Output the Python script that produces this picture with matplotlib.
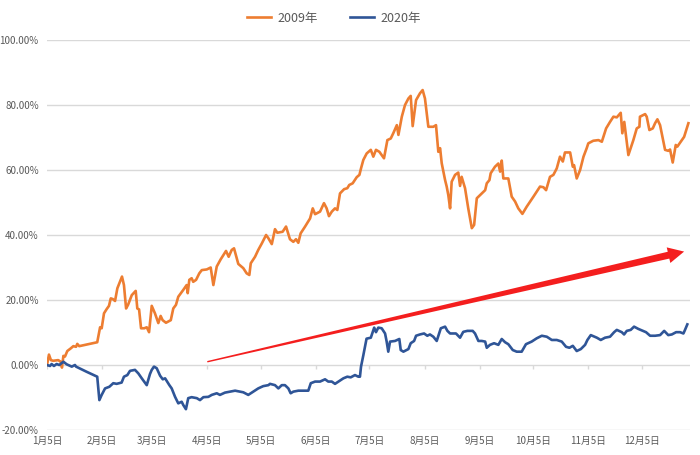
import numpy as np
import matplotlib
matplotlib.use("Agg")
from matplotlib import pyplot as plt
from matplotlib.patches import Polygon
from matplotlib.transforms import IdentityTransform

plt.rcParams['font.family'] = ['Noto Sans CJK SC', 'DejaVu Sans']

# x = 距1月5日的天数
tick_days = [0, 31, 59, 90, 120, 151, 181, 212, 243, 273, 304, 334]
tick_labels = ["1月5日", "2月5日", "3月5日", "4月5日", "5月5日", "6月5日",
               "7月5日", "8月5日", "9月5日", "10月5日", "11月5日", "12月5日"]

days_2009 = [0, 1.1, 2.2, 3.5, 6.3, 7.7, 8.4, 9.2, 10.1, 11.4, 13.3, 14.8, 16.3, 17.0, 18.1,
             28.2, 29.8, 30.7, 32.0, 33.5, 34.8, 35.8, 36.9, 38.2, 39.5, 42.1, 43.2, 44.4,
             45.5, 47.6, 49.8, 50.7, 51.7, 52.8, 54.6, 56.0, 57.3, 58.8, 60.6, 62.5, 63.8,
             64.9, 66.8, 69.5, 70.9, 72.4, 73.7, 76.5, 78.4, 79.0, 79.9, 81.2, 82.1, 83.7,
             85.5, 86.9, 89.7, 91.9, 93.4, 95.3, 97.5, 100.5, 102.0, 103.7, 105.0, 107.4,
             110.2, 112.1, 113.6, 114.4, 116.8, 118.6, 120.6, 123.0, 124.3, 126.2, 128.0,
             129.3, 132.3, 134.2, 136.4, 138.3, 139.8, 141.1, 142.4, 144.9, 147.7, 149.2,
             150.5, 153.3, 155.5, 157.0, 158.3, 159.9, 161.7, 163.0, 164.5, 166.8, 168.6,
             169.7, 171.6, 173.9, 175.4, 176.3, 177.6, 179.5, 181.8, 183.2, 184.7, 186.6,
             189.2, 191.1, 193.0, 194.4, 196.4, 197.3, 199.2, 201.0, 202.9, 204.2, 205.3,
             207.2, 209.4, 210.9, 212.2, 214.1, 216.9, 218.4, 219.7, 220.7, 221.6, 223.5,
             224.4, 225.3, 226.3, 227.2, 229.1, 230.9, 231.9, 232.8, 234.7, 236.5, 238.5,
             239.8, 241.3, 244.1, 246.0, 246.9, 248.4, 249.1, 251.5, 253.4, 254.4, 255.3,
             256.2, 259.0, 260.9, 262.8, 264.6, 266.9, 269.3, 273.1, 276.8, 278.7, 280.2,
             282.4, 284.3, 286.2, 288.0, 289.6, 290.8, 293.7, 295.2, 295.9, 297.4, 299.3,
             301.2, 303.0, 303.9, 306.7, 309.6, 311.5, 313.9, 316.1, 318.0, 319.9, 322.1,
             323.0, 324.1, 326.4, 329.2, 331.1, 332.6, 332.9, 335.8, 336.7, 338.2, 340.1,
             341.4, 342.7, 344.2, 347.0, 348.8, 349.8, 351.3, 353.0, 353.9, 355.8, 357.7,
             359.2, 360.1]
vals_2009 = [0.0, 3.2, 1.5, 1.3, 1.5, 1.0, -0.8, 2.8, 2.6, 4.3, 5.1, 5.8, 5.6, 6.5, 5.8,
             7.0, 11.6, 11.3, 15.9, 17.2, 18.2, 20.5, 20.3, 19.7, 23.6, 27.2, 24.6, 17.4,
             18.5, 21.5, 22.8, 17.4, 17.1, 11.3, 11.3, 11.6, 10.1, 18.2, 15.9, 12.9, 15.1,
             13.8, 13.0, 13.8, 17.4, 18.5, 21.0, 23.1, 24.6, 22.1, 26.2, 26.7, 25.6, 26.2,
             28.2, 29.2, 29.4, 30.0, 24.6, 30.3, 32.5, 35.1, 33.3, 35.4, 35.9, 31.1,
             29.8, 28.2, 27.7, 31.3, 33.3, 35.4, 37.4, 40.0, 39.0, 37.2, 41.8,
             40.7, 41.0, 42.6, 38.7, 37.9, 38.7, 37.6, 40.5, 42.6, 45.1, 48.2,
             46.4, 47.2, 49.8, 48.2, 45.8, 47.2, 48.2, 47.7, 52.8, 54.1, 54.4,
             55.4, 55.9, 57.8, 58.5, 60.5, 63.1, 65.1, 66.2, 64.1, 66.2, 65.6,
             63.6, 69.2, 69.7, 71.3, 73.8, 70.8, 76.4, 80.0, 82.0, 82.8, 73.5,
             81.5, 83.6, 84.6, 82.0, 73.3, 73.3, 73.8, 65.6, 66.7, 62.1, 56.9,
             54.9, 52.3, 48.2, 56.4, 58.5, 59.2, 55.1, 57.9, 54.4, 48.2, 42.1,
             43.1, 51.3, 52.8, 53.8, 55.9, 56.9, 59.0, 61.0, 62.0, 59.5, 62.9,
             57.4, 57.4, 51.8, 50.3, 48.2, 46.5, 48.7, 51.8, 54.9, 54.7, 53.8,
             57.9, 58.5, 60.5, 64.1, 62.6, 65.4, 65.4, 61.0, 61.5, 57.4, 60.0,
             64.1, 66.7, 68.2, 69.0, 69.2, 68.7, 72.8, 74.8, 76.4, 76.2, 77.6,
             71.3, 74.8, 64.6, 69.2, 72.8, 73.3, 76.4, 77.2, 76.4, 72.3, 72.8,
             74.4, 75.6, 73.8, 66.2, 65.9, 66.3, 62.3, 67.7, 67.2, 68.7, 70.2,
             72.8, 74.4]

days_2020 = [0, 1.7, 2.6, 3.9, 5.4, 6.9, 9.2, 11.1, 13.9, 15.7, 16.3, 22.3, 28.2, 28.8,
             29.4, 30.7, 32.6, 35.0, 37.2, 39.1, 41.9, 43.2, 45.1, 46.6, 49.4, 51.3, 53.2,
             56.0, 57.8, 58.8, 60.1, 61.6, 63.5, 65.0, 66.3, 68.7, 70.0, 71.9, 73.7, 75.6,
             76.5, 78.0, 79.3, 81.2, 84.1, 85.9, 87.8, 90.6, 92.5, 95.3, 97.1, 99.9, 102.8,
             105.6, 108.4, 110.2, 113.0, 115.8, 118.6, 121.4, 124.3, 125.2, 128.0, 129.9,
             131.8, 133.6, 135.5, 136.8, 138.3, 141.1, 146.7, 148.1, 150.5, 153.3, 156.1,
             157.9, 159.9, 161.7, 163.6, 166.4, 168.6, 170.5, 172.9, 174.8, 175.7, 176.3,
             177.6, 179.4, 181.8, 183.7, 184.7, 186.0, 187.9, 189.8, 190.7, 191.6, 192.6,
             195.4, 197.8, 198.6, 200.1, 202.9, 204.2, 206.1, 207.2, 209.4, 211.7, 213.5,
             215.0, 216.9, 218.8, 221.1, 223.5, 224.8, 226.3, 229.6, 231.9, 233.7, 236.0,
             239.0, 240.3, 242.2, 244.1, 246.0, 246.9, 248.7, 251.0, 253.4, 255.3, 257.2,
             259.0, 261.5, 263.7, 266.5, 268.9, 272.1, 274.9, 277.8, 280.6, 283.4, 286.2,
             289.0, 291.4, 293.3, 295.2, 297.4, 299.7, 302.1, 303.4, 305.3, 308.7, 310.9,
             313.3, 316.1, 318.4, 319.9, 322.7, 324.0, 325.5, 327.7, 329.6, 332.0, 334.5,
             336.3, 338.6, 341.4, 344.2, 346.5, 348.8, 350.8, 353.2, 355.4, 357.3, 358.2,
             359.5]
vals_2020 = [0.0, -0.3, 0.3, -0.3, 0.3, 0.0, 1.0, 0.2, -0.5, 0.0, -0.5, -2.1, -3.6, -7.2,
             -10.8, -9.2, -7.2, -6.7, -5.6, -5.8, -5.4, -3.6, -3.1, -1.8, -1.5, -2.6, -4.1,
             -6.2, -2.8, -1.5, -0.5, -1.0, -3.3, -4.4, -4.1, -6.2, -7.2, -9.8, -11.8, -11.3,
             -12.3, -13.6, -10.2, -9.9, -10.2, -10.8, -9.9, -9.8, -9.2, -8.7, -9.2, -8.5, -8.2,
             -7.9, -8.2, -8.4, -9.2, -8.2, -7.2, -6.5, -6.2, -5.8, -6.2, -7.2,
             -6.2, -6.2, -7.2, -8.7, -8.2, -7.9, -7.9, -5.6, -5.1, -5.1, -4.4,
             -5.1, -5.1, -5.8, -5.1, -4.1, -3.6, -3.8, -3.1, -3.6, -3.6, -0.5,
             3.0, 8.1, 8.4, 11.5, 10.1, 11.5, 11.3, 9.7, 7.2, 4.1, 7.2,
             7.4, 8.0, 4.6, 4.1, 4.9, 6.7, 7.4, 9.0, 9.4, 9.7, 9.0,
             9.4, 8.7, 7.4, 11.3, 11.8, 10.5, 9.7, 9.7, 8.4, 10.2, 10.5,
             10.5, 9.7, 7.4, 7.4, 7.2, 5.3, 6.2, 6.7, 6.2, 8.0, 7.0,
             6.4, 4.6, 4.1, 4.1, 6.4, 7.2, 8.2, 9.0, 8.7, 7.7, 7.7,
             7.2, 5.6, 5.3, 5.9, 4.3, 4.9, 6.2, 7.7, 9.2, 8.4, 7.7,
             8.4, 8.7, 10.1, 10.8, 10.1, 9.4, 10.5, 10.8, 11.8, 11.1, 10.5,
             10.1, 9.0, 9.0, 9.2, 10.5, 9.2, 9.4, 10.1, 10.1, 9.7, 10.8,
             12.5]

# 红色箭头 (天数, %)
arrow_start = (90, 1.0)
arrow_end = (357.7, 34.9)

gray = "#595959"
grid = "#D9D9D9"

fig = plt.figure(figsize=(7, 4.55), dpi=100)
ax = fig.add_axes([47 / 700, 25 / 455, 643 / 700, 390 / 455])

ax.plot(days_2009, vals_2009, color="#ED7D31", lw=1.9, label="2009年", solid_joinstyle="round")
ax.plot(days_2020, vals_2020, color="#2F5597", lw=1.9, label="2020年", solid_joinstyle="round")

ax.set_xlim(0, 361)
ax.set_ylim(-20, 100)
yt = np.arange(-20, 101, 20)
ax.set_yticks(yt)
ax.set_yticklabels(["%.2f%%" % v for v in yt])
ax.set_xticks(tick_days)
ax.set_xticklabels(tick_labels)
ax.tick_params(axis="both", length=0, labelsize=7, labelcolor=gray)
ax.tick_params(axis="y", pad=6)
ax.tick_params(axis="x", pad=4)
for s in ax.spines.values():
    s.set_visible(False)
ax.grid(axis="y", color=grid, lw=1)
ax.set_axisbelow(True)
# 0轴上的刻度线
ax.vlines(tick_days, -1.1, 0, color=grid, lw=1, zorder=0)

# 渐宽的红色箭头 (像素坐标)
p0 = ax.transData.transform(arrow_start)
p1 = ax.transData.transform(arrow_end)
u = (p1 - p0) / np.hypot(*(p1 - p0))
n = np.array([-u[1], u[0]])
hl = 16
base = p1 - u * hl
pts = [p0 + n * 0.7, base + n * 3.5, base + n * 8, p1,
       base - n * 8, base - n * 3.5, p0 - n * 0.7]
fig.add_artist(Polygon(pts, closed=True, color="#F41E1E", lw=0,
                       transform=IdentityTransform()))

leg = fig.legend(loc="center", bbox_to_anchor=(0.477, 0.96), ncol=2, frameon=False,
                 fontsize=9, handlelength=1.9, columnspacing=2.6, handletextpad=0.5)
for t in leg.get_texts():
    t.set_color(gray)

plt.savefig("out.png", dpi=100)
